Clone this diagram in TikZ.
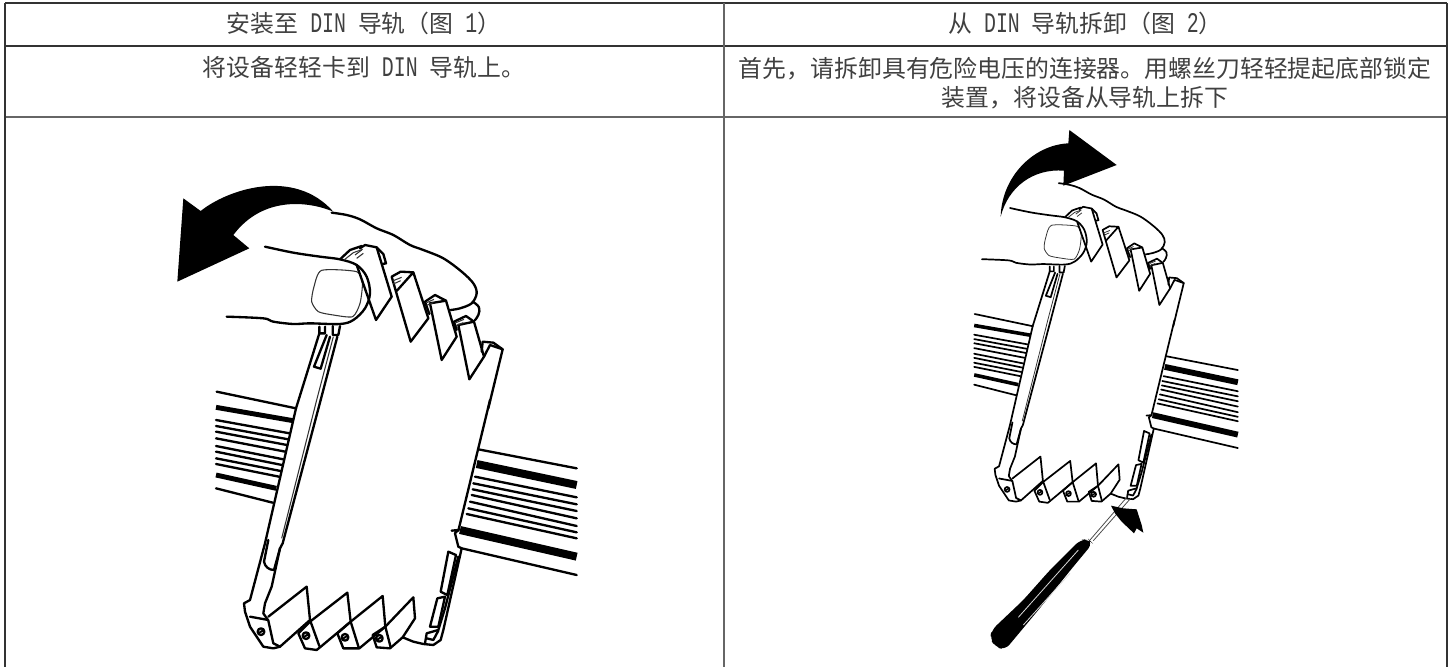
\documentclass[tikz,border=0pt]{standalone}
\usepackage{fontspec}
\newfontfamily\cjk{Noto Sans CJK SC}
\newfontfamily\lat[FakeStretch=0.7]{Liberation Mono}
\newcommand{\Lt}[1]{{\fontsize{21.3pt}{21.3pt}\selectfont\lat #1}}
\newcommand{\Hs}{\hspace*{8.96pt}}
\def\ds{1}
\tikzset{
  dl/.style={line width=\ds*1.75pt,line join=round,line cap=round,black},
  dt/.style={line width=\ds*0.8pt,line join=round,black!80},
  dh/.style={line width=\ds*3.7pt,black},
  dr/.style={line width=\ds*6pt,black},
  rule/.style={line width=0.9pt,black!80},
  vrule/.style={line width=1.5pt,black!60},
  cell/.style={font=\cjk\fontsize{17.9pt}{21.75pt}\selectfont,text=black!75,align=center,inner sep=0pt},
  ink/.style={fill=black,draw=none}
}
\newcommand{\devicebody}{%
 % upper part, coordinates of the first crop
 \begin{scope}[shift={(480,480)}]
  % hand
  \draw[dl] plot[smooth,tension=.55] coordinates{(515,158)(560,165)(600,178)(650,205)(700,225)(750,255)(790,270)(850,295)(905,335)(940,370)(950,400)(935,430)(900,445)(872,450)};
  \draw[dl] plot[smooth,tension=.7] coordinates{(938,425)(957,442)(955,465)(945,480)};
  \draw[dl] plot[smooth,tension=.55] coordinates{(315,260)(400,278)(480,290)(540,298)(590,315)(620,350)(630,400)(615,445)(580,480)(540,492)(450,490)(400,492)(340,485)(310,475)(200,470)};
  \draw[dt] plot[smooth cycle,tension=.4] coordinates{(485,331)(590,335)(607,370)(600,430)(578,470)(520,465)(475,455)(455,425)(462,380)};
  % tabs at the thumb
  \draw[dl] (478,500)--(478,520)--(495,520)--(495,500) (518,498)--(518,525)--(535,525)--(540,498);
  % narrow front side
  \draw[dl] (478,520)--(408,745);
  \draw[dl] (532,530)--(482,720);
  \draw[dt] (520,530)--(470,720);
  \draw[dl] (500,525)--(462,620)--(482,626)--(510,530);
  % hinge strip
  \draw[dl] (540,298)--(570,270)--(605,258);
  \draw[dt] (552,300)--(580,278)--(608,268);
  % teeth
  \draw[dl] (590,315)--(648,480)--(695,410)--(650,262)--(615,255)--(600,265);
  \draw[dl] (650,262)--(670,282)--(678,310)--(668,312);
  \draw[dl] (708,395)--(752,545)--(805,475)--(760,337)--(722,335)--(695,350)--(708,395)--(760,337);
  \draw[dl] (810,430)--(845,600)--(890,530)--(858,422)--(825,405)--(795,425)--(808,462);
  \draw[dl] (810,430)--(858,422);
  \draw[dl] (895,495)--(928,658)--(972,590)--(942,485)--(918,468)--(882,485)--(890,510);
  \draw[dl] (895,495)--(942,485);
  \draw[dt] (700,362)--(725,352) (700,372)--(722,362) (800,428)--(822,418) (800,436)--(820,428) (888,488)--(912,478) (888,497)--(910,488) (585,285)--(605,270) (590,295)--(610,280);
  % upper right corner
  \draw[dl] (965,575)--(968,545)--(1000,548)--(1028,568)--(985,745);
  \draw[dl] (972,590)--(990,555)--(1028,568);
 \end{scope}
 % lower part, coordinates of the second crop
 \begin{scope}[shift={(600,1200)}]
  % left rail
  \draw[dl] (50,-25)--(288,25);
  \draw[dh] (48,22)--(279,62);
  \draw[dl] (48,60)--(269,100);
  \draw[dl] (48,78)--(265,118);
  \draw[dl] (48,95)--(261,135);
  \draw[dl] (48,115)--(256,155);
  \draw[dl] (48,138)--(250,178);
  \draw[dl] (48,155)--(246,195);
  \draw[dl] (48,175)--(242,213);
  \draw[dl] (48,192)--(237,230);
  \draw[dh] (48,225)--(229,265);
  \draw[dl] (48,265)--(218,308);
  % right rail
  \draw[dl] (835,148)--(1130,205);
  \draw[dr] (830,192)--(1130,255);
  \draw[dl] (825,230)--(1130,292);
  \draw[dl] (820,250)--(1130,313);
  \draw[dl] (818,268)--(1130,333);
  \draw[dl] (815,285)--(1130,355);
  \draw[dl] (810,305)--(1130,378);
  \draw[dl] (805,325)--(1130,397);
  \draw[dl] (800,342)--(1130,415);
  \draw[dr] (780,390)--(1130,470);
  \draw[dl] (785,445)--(1130,525);
  % device edges
  \draw[dl] (288,25)--(195,430)--(150,600)--(132,610)--(135,635)--(150,680)--(190,740)--(220,745)--(240,740);
  \draw[dl] (362,0)--(248,430)--(240,445)--(215,560)--(195,610)--(190,640)--(205,662)--(220,730)--(240,740);
  \draw[dt] (350,0)--(245,415);
  \draw[dl] (205,420)--(192,485) to[out=-80,in=180] (222,510) (240,445)--(222,510);
  \draw[dl] (150,650)--(205,660);
  % teeth
  \draw[dl] (205,650)--(320,560)--(330,660)--(240,740);
  \draw[dl] (330,665)--(442,578)--(452,665)--(360,742)--(350,750)--(315,745)--(295,700)--(330,665);
  \draw[dl] (330,660)--(358,738);
  \draw[dl] (452,665)--(548,588)--(556,680)--(478,745)--(470,745)--(430,745)--(412,700)--(452,665);
  \draw[dl] (452,665)--(476,742);
  \draw[dl] (556,680)--(640,592)--(645,655)--(608,712)--(570,745)--(530,742)--(518,705)--(556,680);
  \draw[dl] (556,680)--(572,742);
  % screws
  \foreach \sx/\sy in {183/695,318/707,435/712,538/715}{
    \draw[dl] (\sx,\sy) circle[radius=10];
    \draw[line width=\ds*1.5pt] (\sx-8,\sy+5)--(\sx+8,\sy-5);
  }
  % lower right corner
  \draw[dl] (608,712)--(640,725)--(670,732)--(700,735)--(722,720)--(730,690)--(785,445)--(775,440)--(765,400)--(775,390)--(755,392);
  \draw[dl] (870,0)--(775,392);
  \draw[dl] (722,575)--(745,455)--(768,465)--(742,585)--cycle;
  \draw[dl] (690,680)--(712,595)--(735,590)--(715,680)--cycle;
  \draw[dl] (775,470)--(735,625)--(715,690)--(680,700)--(675,730);
  \draw[dl] (680,715)--(700,720)--(715,692);
 \end{scope}
}
\begin{document}
\begin{tikzpicture}[x=0.25pt,y=-0.25pt]
 \begin{scope}[x=0.75pt,y=-0.75pt]
  \useasboundingbox (0,0) rectangle (1450,667);
  % table rules
  \coordinate (tl) at (5,3); \coordinate (tr) at (1447,3);
  \coordinate (ml) at (5,46); \coordinate (mr) at (1447,46);
  \coordinate (nl) at (5,117); \coordinate (nr) at (1447,117);
  \coordinate (bl) at (5,667); \coordinate (br) at (1447,667);
  \coordinate (ct) at (724,3); \coordinate (cb) at (724,667);
  \draw[rule] (tl)--(tr) (ml)--(mr);
  \draw[rule,black!60] (nl)--(nr);
  \draw[vrule] (ct)--(cb);
  \draw[line width=1.5pt,black!80] (tl)--(bl) (tr)--(br);
  % texts
  \node[cell,anchor=base] (h1) at (364,33) {安装至\Hs\Lt{DIN}\Hs 导轨（图\Hs\Lt{1}）};
  \node[cell,anchor=base] (h2) at (1085.5,33) {从\Hs\Lt{DIN}\Hs 导轨拆卸（图\Hs\Lt{2}）};
  \node[cell,anchor=base] (b1) at (364,77) {将设备轻轻卡到\Hs\Lt{DIN}\Hs 导轨上。};
  \node[cell] (b2) at (1085,83.5) {首先，请拆卸具有危险电压的连接器。用螺丝刀轻轻提起底部锁定\\[0pt]装置，将设备从导轨上拆下};
 \end{scope}
 % figure 1
 \def\ds{1}
 \devicebody
 \begin{scope}[shift={(480,480)}]
 \fill[ink] (52,365)--(70,115)--(122,153) .. controls (200,90) and (400,20) .. (520,155)
   .. controls (450,125) and (310,105) .. (220,225)--(268,265)--cycle;
 \end{scope}
 % figure 2
 \begin{scope}[shift={(2448.9,83.1)},scale=.731]
  \def\ds{.731}
  \devicebody
 \end{scope}
 \begin{scope}[shift={(2820,390)}]
  \fill[ink] (182,260) .. controls (185,140) and (280,45) .. (385,40)--(388,0)--(530,105)--(370,167)--(372,122)
     .. controls (280,115) and (205,170) .. (182,260)--cycle;
 \end{scope}
 \begin{scope}[shift={(2820,1170)}]
  % screwdriver
  \draw[line width=.6pt,black!70] (450,450)--(562,320) (460,452)--(572,325);
  \fill[ink,rounded corners=5pt] (420,450)--(445,447)--(458,460)--(400,530)--(295,660)--(195,780)--(165,770)--(150,745)--(155,720)--(250,630)--(330,540)--cycle;
  \draw[line width=.6pt,black!15] (235,682)--(415,480) (250,705)--(390,550);
  % arrow
  \fill[ink] (513,347)--(550,355)--(590,358)--(605,405)--(610,428)--(590,415)--(582,430)--(545,395)--(525,370)--cycle;
 \end{scope}
\end{tikzpicture}
\end{document}
